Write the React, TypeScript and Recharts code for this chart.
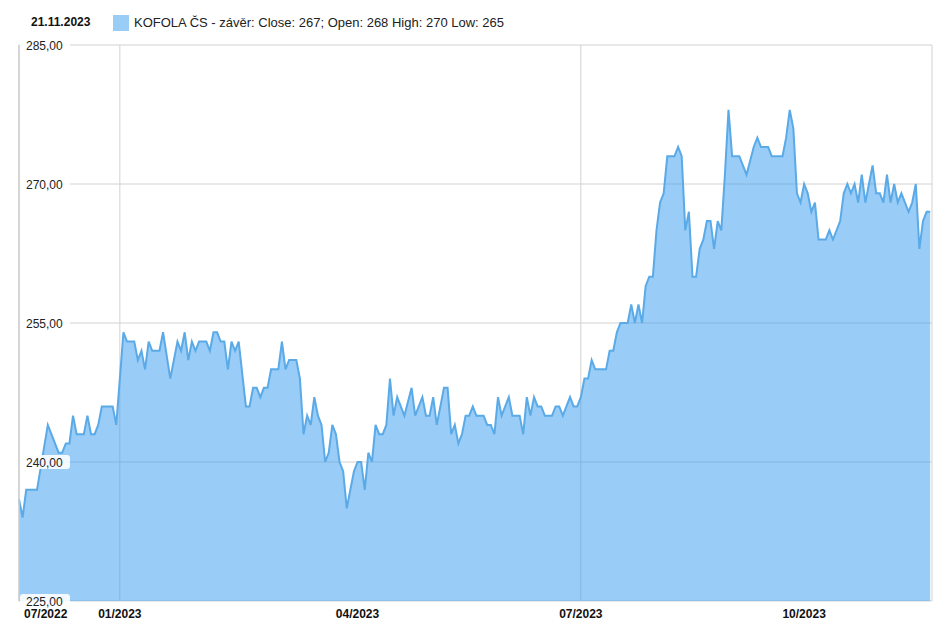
import React from 'react';
import { AreaChart, Area, XAxis, YAxis, CartesianGrid } from 'recharts';

// trading-session index (x) and closing price (y)
const sessionIndex = [
  0, 1, 2, 5, 8, 11, 12, 13, 14, 15, 16, 18, 19, 20, 21, 22, 23, 26, 27, 29,
  30, 32, 33, 34, 35, 36, 37, 39, 40, 42, 44, 45, 46, 47, 48, 49, 50, 52, 53, 54,
  55, 56, 57, 58, 59, 60, 61, 63, 64, 65, 66, 67, 68, 69, 70, 72, 73, 74, 75, 77,
  78, 79, 80, 81, 82, 83, 84, 85, 86, 87, 88, 89, 90, 91, 92, 93, 94, 95, 96, 97,
  98, 99, 100, 101, 102, 103, 104, 105, 107, 109, 110, 112, 113, 114, 115, 116, 118, 119, 120, 121,
  122, 123, 124, 125, 126, 127, 129, 130, 131, 132, 133, 134, 135, 136, 137, 139, 140, 141, 142, 143,
  144, 145, 146, 148, 149, 150, 151, 153, 154, 155, 156, 157, 158, 159, 160, 163, 164, 165, 166, 167,
  169, 170, 171, 172, 173, 174, 175, 176, 177, 178, 179, 180, 182, 183, 184, 185, 186, 187, 188, 189,
  190, 191, 192, 193, 194, 195, 196, 197, 198, 200, 201, 202, 204, 205, 206, 208, 209, 212, 213, 214,
  215, 216, 217, 218, 219, 220, 221, 222, 224, 225, 226, 228, 229, 230, 231, 232, 233, 234, 235, 237,
  238, 239, 240, 241, 242, 243, 244, 245, 247, 248, 249, 250, 251, 252, 253,
];
const closePrice = [
  236, 234, 237, 237, 244, 241, 241, 242, 242, 245, 243, 243, 245, 243, 243, 244, 246, 246, 244, 254,
  253, 253, 251, 252, 250, 253, 252, 252, 254, 249, 253, 252, 254, 251, 253, 252, 253, 253, 252, 254,
  254, 253, 253, 250, 253, 252, 253, 246, 246, 248, 248, 247, 248, 248, 250, 250, 253, 250, 251, 251,
  249, 243, 245, 244, 247, 245, 244, 240, 241, 244, 243, 240, 239, 235, 237, 239, 240, 240, 237, 241,
  240, 244, 243, 243, 244, 249, 245, 247, 245, 248, 245, 247, 245, 245, 247, 244, 248, 248, 243, 244,
  242, 243, 245, 245, 246, 245, 245, 244, 244, 243, 247, 245, 246, 247, 245, 245, 243, 247, 245, 247,
  246, 246, 245, 245, 246, 246, 245, 247, 246, 246, 247, 249, 249, 251, 250, 250, 252, 252, 254, 255,
  255, 257, 255, 257, 255, 259, 260, 260, 265, 268, 269, 273, 273, 274, 273, 265, 267, 260, 260, 263,
  264, 266, 266, 263, 266, 265, 271, 278, 273, 273, 272, 271, 274, 275, 274, 274, 273, 273, 275, 278,
  276, 269, 268, 270, 269, 267, 268, 264, 264, 265, 264, 266, 269, 270, 269, 270, 268, 271, 268, 272,
  269, 269, 268, 271, 268, 270, 268, 269, 267, 268, 270, 263, 266, 267, 267,
];

const priceTicks = [225, 240, 255, 270, 285];
const monthTickIndex = [0, 28, 94, 156, 218];
const monthTickLabels = ['07/2022', '01/2023', '04/2023', '07/2023', '10/2023'];
const gridTickIndex = [28, 156];
const legendDate = '21.11.2023';
const legendLabel = 'KOFOLA ČS - závěr: Close: 267; Open: 268 High: 270 Low: 265';

const data = sessionIndex.map((i, k) => ({ i, close: closePrice[k] }));

const FONT = 'Arial, "Liberation Sans", Helvetica, sans-serif';

const MonthTick = (props: any) => {
  const { x, y, payload } = props;
  const k = monthTickIndex.indexOf(payload.value);
  const first = k === 0;
  return (
    <text
      x={first ? x + 5 : x}
      y={y + 17}
      textAnchor={first ? 'start' : 'middle'}
      fontSize={12}
      fontWeight="bold"
      fill="#111"
      fontFamily={FONT}
    >
      {monthTickLabels[k]}
    </text>
  );
};

const PriceTick = (props: any) => {
  const { x, y, payload } = props;
  const label = Number(payload.value).toFixed(2).replace('.', ',');
  return (
    <g>
      <rect x={x + 1} y={y - 7} width={50} height={14} rx={3} fill="#ffffff" fillOpacity={0.88} />
      <text x={x + 7} y={y + 4.5} fontSize={12} fill="#222" fontFamily={FONT} textAnchor="start">
        {label}
      </text>
    </g>
  );
};

export default function App() {
  return (
    <div
      style={{
        position: 'absolute',
        left: 0,
        top: 0,
        width: 947,
        height: 630,
        background: '#fff',
        fontFamily: FONT,
      }}
    >
      <div
        style={{
          position: 'absolute',
          left: 31,
          top: 15,
          fontSize: 12,
          fontWeight: 'bold',
          color: '#111',
          lineHeight: '15px',
        }}
      >
        {legendDate}
      </div>
      <div
        style={{
          position: 'absolute',
          left: 113,
          top: 15,
          width: 16,
          height: 16,
          background: '#99cdf5',
        }}
      />
      <div
        style={{
          position: 'absolute',
          left: 134,
          top: 15,
          fontSize: 13,
          color: '#222',
          lineHeight: '16px',
          whiteSpace: 'nowrap',
        }}
      >
        {legendLabel}
      </div>
      <div style={{ position: 'absolute', left: 0, top: 0 }}>
        <AreaChart
          width={947}
          height={630}
          data={data}
          margin={{ top: 45, right: 15, left: 19, bottom: 0 }}
        >
          <CartesianGrid stroke="#d2d2d2" xAxisId="grid" horizontal vertical />
          <XAxis
            xAxisId="grid"
            dataKey="i"
            type="number"
            domain={[0, 253.5]}
            ticks={gridTickIndex}
            hide
          />
          <XAxis
            dataKey="i"
            type="number"
            domain={[0, 253.5]}
            ticks={monthTickIndex}
            interval={0}
            height={29}
            tickLine={false}
            axisLine={false}
            tickSize={0}
            tickMargin={0}
            tick={<MonthTick />}
          />
          <YAxis
            domain={[225, 285]}
            ticks={priceTicks}
            interval={0}
            mirror
            tickLine={false}
            tickSize={0}
            tickMargin={0}
            axisLine={{ stroke: '#cfcfcf', strokeWidth: 1.5 }}
            tick={<PriceTick />}
          />
          <YAxis
            yAxisId="r"
            orientation="right"
            domain={[225, 285]}
            width={0}
            tick={false}
            tickLine={false}
            axisLine={{ stroke: '#d2d2d2' }}
          />
          <Area
            type="linear"
            dataKey="close"
            stroke="#5aaae8"
            strokeWidth={2}
            fill="#3399ee"
            fillOpacity={0.5}
            dot={false}
            activeDot={false}
            isAnimationActive={false}
          />
        </AreaChart>
      </div>
    </div>
  );
}
